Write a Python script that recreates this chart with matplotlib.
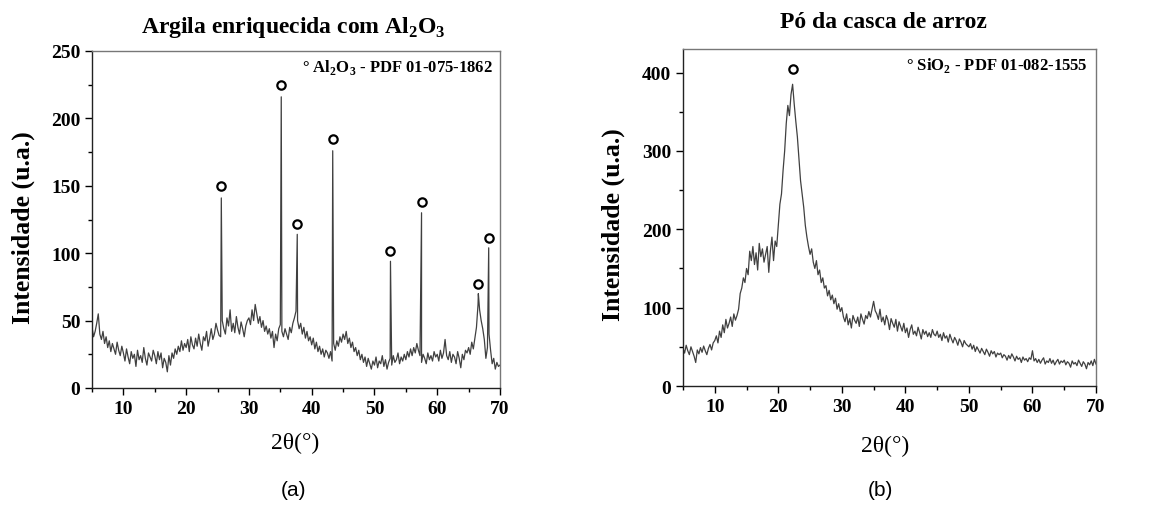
import numpy as np
import matplotlib
matplotlib.use("Agg")
import matplotlib.pyplot as plt
from matplotlib.ticker import MultipleLocator

plt.rcParams["font.family"] = ["Liberation Serif", "DejaVu Serif"]
plt.rcParams["mathtext.fontset"] = "custom"
plt.rcParams["mathtext.rm"] = "Liberation Serif:bold"
plt.rcParams["mathtext.bf"] = "Liberation Serif:bold"

# scan grid (2theta, step 0.25 deg) shared by both patterns
scan_2theta = np.arange(5.0, 70.001, 0.25)

# (a) clay enriched with Al2O3 - background counts on the scan grid
clay_counts = [
    45, 38, 42, 48, 55, 40, 36, 42, 33, 38, 30, 35, 27, 33, 29, 25, 34, 28, 24, 31,
    26, 20, 29, 23, 18, 27, 22, 25, 16, 28, 21, 24, 19, 30, 22, 17, 26, 23, 20, 28,
    24, 18, 27, 21, 26, 15, 22, 19, 12, 24, 17, 26, 22, 29, 25, 31, 27, 35, 28, 33,
    30, 36, 27, 38, 32, 29, 37, 31, 40, 33, 28, 38, 35, 42, 31, 37, 44, 36, 40, 48,
    43, 39, 38, 50, 44, 40, 52, 46, 58, 42, 48, 41, 53, 45, 40, 49, 44, 38, 46, 50,
    52, 47, 58, 50, 62, 55, 48, 53, 45, 50, 42, 46, 40, 44, 37, 42, 30, 40, 35, 44,
    47, 42, 38, 44, 40, 36, 45, 41, 48, 52, 57, 50, 44, 48, 40, 45, 37, 42, 35, 38,
    32, 37, 29, 34, 27, 31, 25, 29, 23, 28, 26, 22, 27, 20, 33, 28, 35, 31, 38, 34,
    40, 36, 42, 33, 37, 30, 34, 27, 30, 24, 28, 21, 25, 19, 23, 16, 22, 18, 14, 20,
    17, 23, 15, 20, 18, 24, 16, 21, 14, 19, 22, 17, 24, 19, 21, 26, 18, 23, 20, 25,
    21, 27, 23, 29, 24, 30, 26, 33, 28, 24, 19, 25, 22, 18, 26, 21, 24, 20, 27, 23,
    25, 20, 28, 22, 26, 36, 24, 21, 27, 19, 25, 23, 18, 27, 22, 15, 25, 21, 28, 26,
    30, 25, 34, 29, 37, 45, 62, 58, 50, 44, 36, 22, 30, 40, 28, 18, 22, 14, 19, 16,
    17,
]
# sharp Al2O3 reflections
clay_peak_2theta = [25.6, 35.15, 37.7, 43.35, 52.55, 57.5, 66.55, 68.2]
clay_peak_counts = [141, 216, 114, 176, 94, 130, 70, 104]
clay_mark_counts = [150, 225, 122, 185, 102, 138, 77, 111]

# (b) rice husk powder
husk_counts = [
    48, 42, 52, 45, 40, 50, 44, 38, 30, 46, 41, 49, 43, 51, 45, 40, 48, 53, 46, 55,
    58, 64, 55, 70, 62, 78, 68, 85, 74, 80, 88, 76, 92, 84, 90, 98, 118, 125, 138, 132,
    150, 142, 172, 160, 178, 155, 170, 148, 182, 165, 175, 158, 168, 178, 145, 172, 190, 160, 185, 178,
    205, 232, 245, 275, 300, 335, 358, 345, 372, 385, 360, 338, 318, 290, 262, 245, 228, 205, 190, 178,
    168, 175, 158, 150, 160, 142, 148, 132, 138, 125, 128, 115, 122, 110, 116, 105, 112, 98, 105, 95,
    100, 88, 82, 92, 78, 86, 74, 90, 84, 80, 88, 76, 92, 85, 79, 90, 86, 95, 88, 98,
    108, 96, 92, 85, 98, 82, 88, 78, 90, 84, 72, 86, 80, 75, 85, 70, 82, 76, 70, 80,
    68, 74, 62, 72, 78, 66, 70, 64, 75, 68, 60, 72, 66, 70, 63, 68, 62, 72, 66, 64,
    70, 62, 66, 58, 68, 61, 64, 56, 66, 60, 55, 62, 58, 52, 60, 56, 50, 58, 54, 52,
    50, 54, 47, 52, 44, 50, 46, 42, 48, 44, 40, 47, 43, 38, 45, 41, 44, 37, 42, 40,
    42, 36, 40, 38, 33, 39, 35, 41, 37, 32, 38, 34, 36, 30, 37, 33, 35, 31, 36, 34,
    45, 32, 35, 30, 34, 29, 33, 36, 28, 32, 30, 35, 29, 33, 27, 31, 34, 28, 32, 30,
    33, 27, 31, 29, 24, 32, 28, 30, 26, 33, 29, 25, 31, 28, 22, 30, 27, 32, 26, 34,
    28,
]
husk_mark_2theta = [22.3]
husk_mark_counts = [404]

W, H = 1154, 506


def merge(x, y, px, py):
    xx = np.concatenate([x, px])
    yy = np.concatenate([y, py])
    order = np.argsort(xx)
    return xx[order], yy[order]


def style_axis(ax, ymax, ymajor, yminor):
    ax.set_xlim(5, 70)
    ax.set_ylim(0, ymax)
    ax.xaxis.set_major_locator(MultipleLocator(10))
    ax.xaxis.set_minor_locator(MultipleLocator(5))
    ax.yaxis.set_major_locator(MultipleLocator(ymajor))
    ax.yaxis.set_minor_locator(MultipleLocator(yminor))
    ax.tick_params(which="both", direction="out", top=False, right=False)
    ax.tick_params(which="major", length=5, width=1.0, labelsize=14)
    ax.tick_params(which="minor", length=3, width=1.0)
    for lab in ax.get_xticklabels() + ax.get_yticklabels():
        lab.set_fontweight("bold")
    for side, sp in ax.spines.items():
        sp.set_linewidth(1.0)
        sp.set_color("#222222" if side in ("left", "bottom") else "#777777")


fig = plt.figure(figsize=(W / 100, H / 100), dpi=100)

ax1 = fig.add_axes([92 / W, 1 - 389 / H, 408 / W, 337 / H])
x1, y1 = merge(scan_2theta, clay_counts, clay_peak_2theta, clay_peak_counts)
ax1.plot(x1, y1, color="#404040", lw=0.9)
ax1.plot(clay_peak_2theta, clay_mark_counts, "o", ms=6, mfc="none", mec="black", mew=1.6)
style_axis(ax1, 250, 50, 25)
ax1.text(0.983, 0.955, r"° Al$_2$O$_3$ - PDF 01-075-1862", transform=ax1.transAxes,
         ha="right", va="center", fontsize=12, fontweight="bold")

ax2 = fig.add_axes([683 / W, 1 - 387 / H, 413 / W, 337 / H])
ax2.plot(scan_2theta, husk_counts, color="#404040", lw=0.9)
ax2.plot(husk_mark_2theta, husk_mark_counts, "o", ms=6, mfc="none", mec="black", mew=1.6)
style_axis(ax2, 430, 100, 50)
ax2.text(0.98, 0.955, r"° SiO$_2$ - PDF 01-082-1555", transform=ax2.transAxes,
         ha="right", va="center", fontsize=12, fontweight="bold")

fig.text(293 / W, 1 - 28 / H, r"Argila enriquecida com Al$_2$O$_3$", ha="center", va="center",
         fontsize=17, fontweight="bold")
fig.text(883 / W, 1 - 23 / H, "Pó da casca de arroz", ha="center", va="center",
         fontsize=17, fontweight="bold")

fig.text(23 / W, 1 - 228 / H, "Intensidade (u.a.)", rotation=90, ha="center", va="center",
         fontsize=18.5, fontweight="bold")
fig.text(613 / W, 1 - 225 / H, "Intensidade (u.a.)", rotation=90, ha="center", va="center",
         fontsize=18.5, fontweight="bold")

fig.text(295 / W, 1 - 443 / H, "2θ(°)", ha="center", va="center", fontsize=17)
fig.text(885 / W, 1 - 446 / H, "2θ(°)", ha="center", va="center", fontsize=17)

fig.text(293 / W, 1 - 491 / H, "(a)", ha="center", va="center", fontsize=15, family="Liberation Sans")
fig.text(880 / W, 1 - 491 / H, "(b)", ha="center", va="center", fontsize=15, family="Liberation Sans")

fig.savefig("out.png", dpi=100)
